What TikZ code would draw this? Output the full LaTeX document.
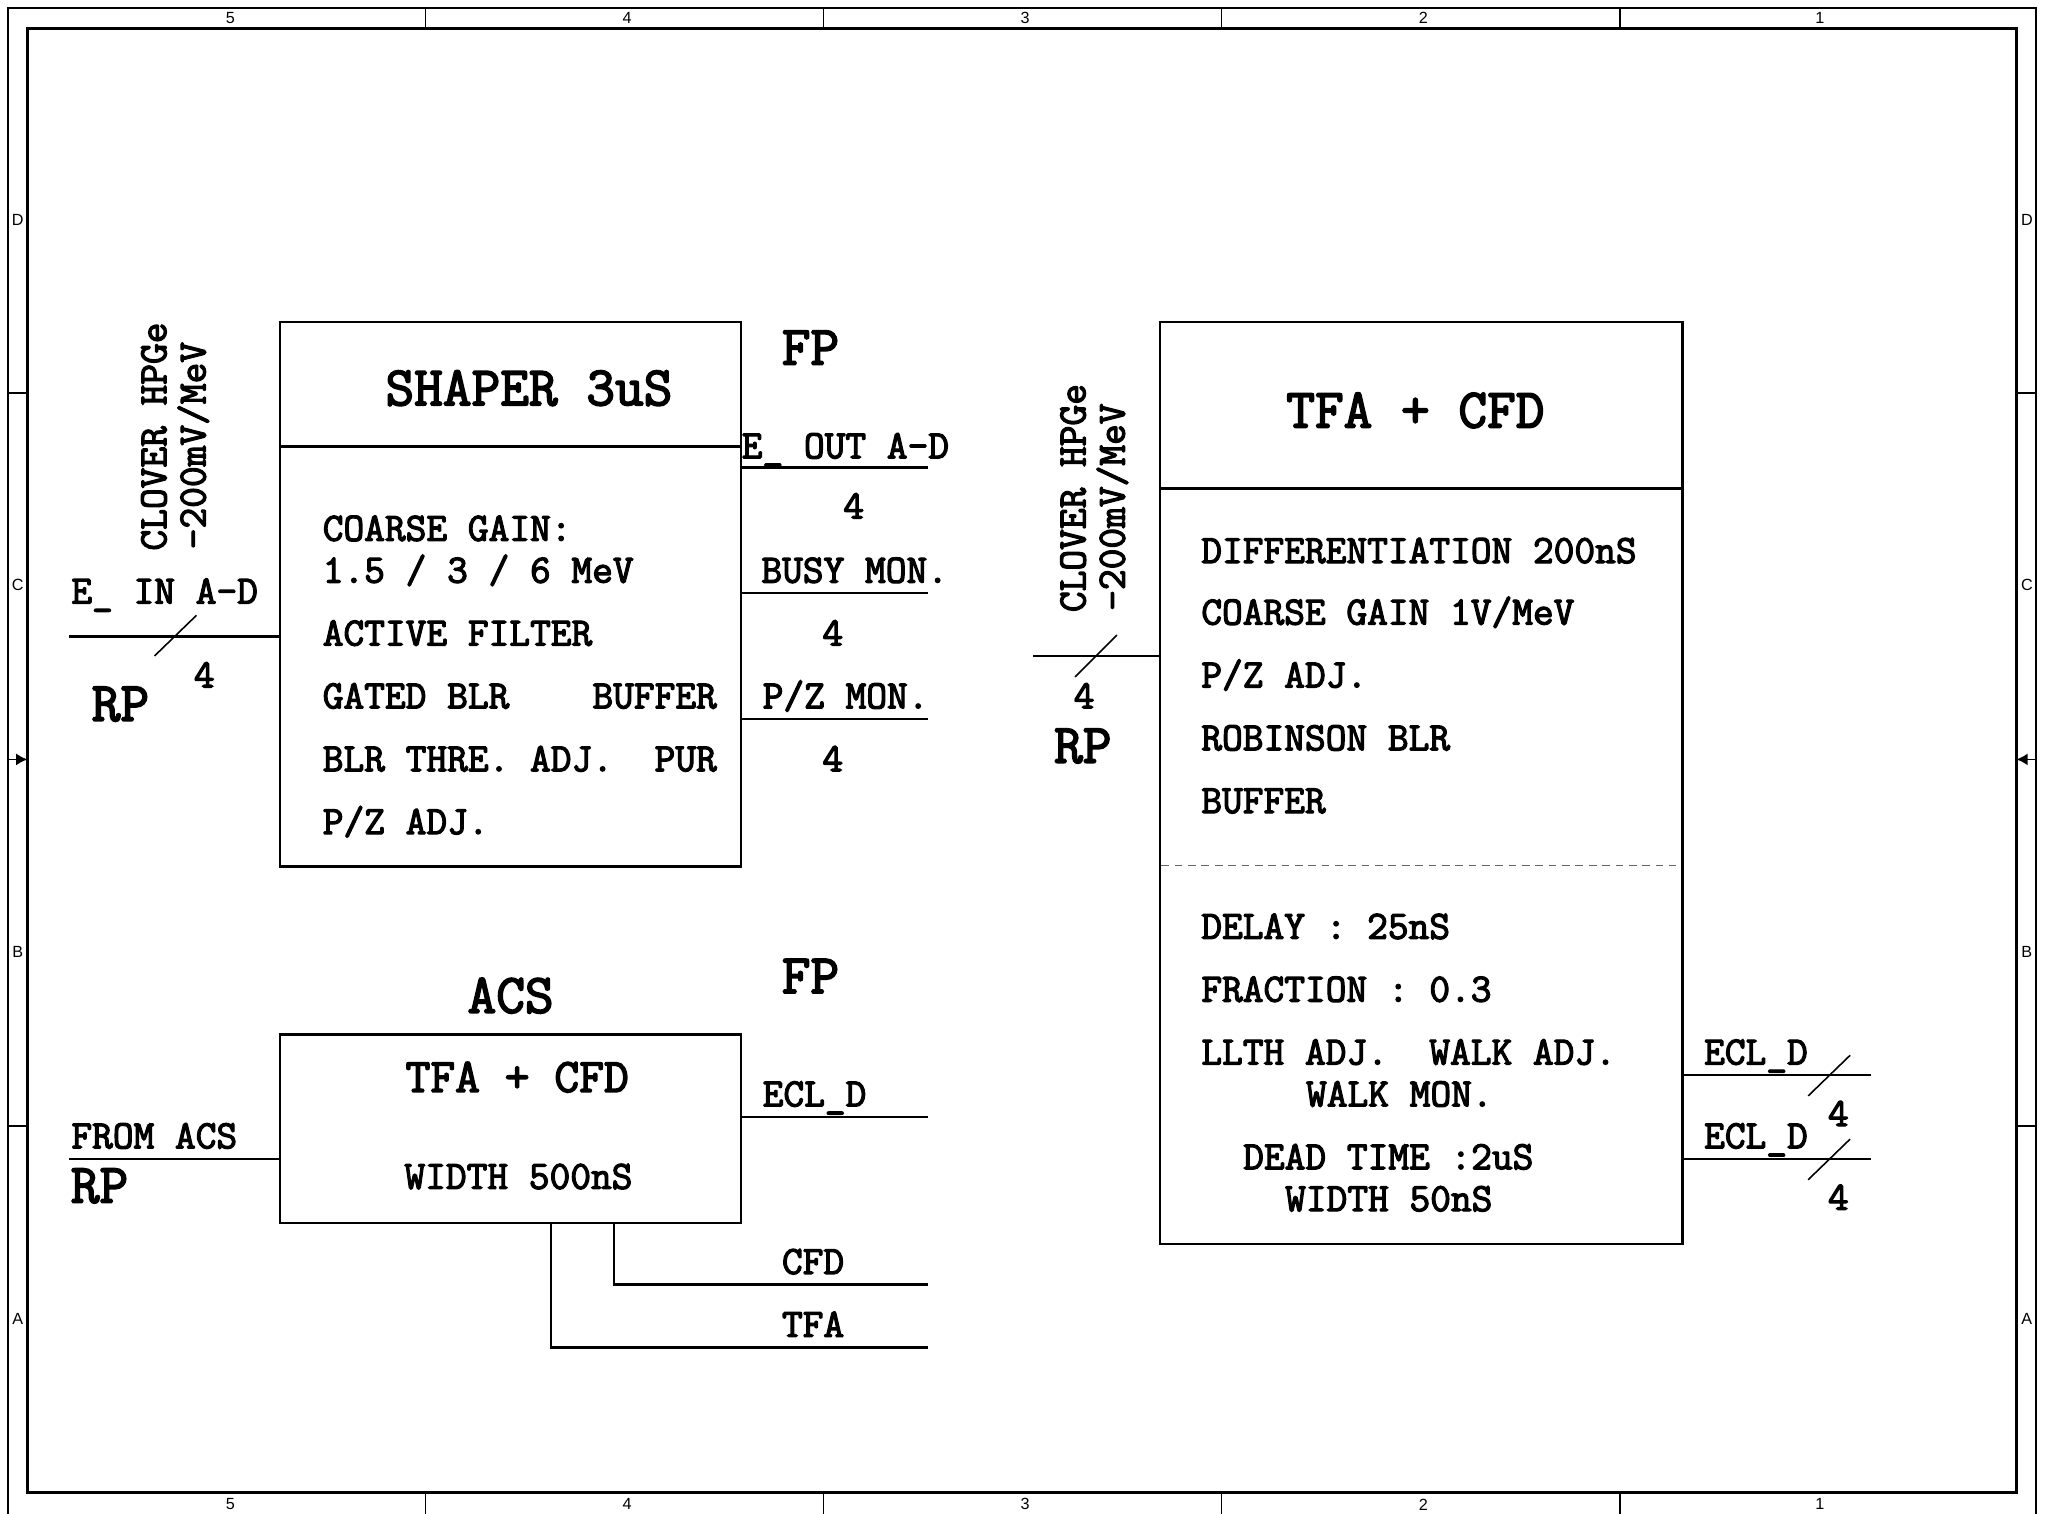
\documentclass[tikz,border=0pt]{standalone}
\usepackage{fontspec}
\usetikzlibrary{arrows.meta}
\newfontfamily\sansf{Liberation Sans}
\newfontfamily\monof[FakeBold=3]{Latin Modern Mono}
\newcommand\bodyfont{\monof\fontsize{11.45}{13}\selectfont}
\newcommand\bigfont{\monof\fontsize{15.85}{18}\selectfont}
\newcommand\midfont{\monof\fontsize{13.7}{16}\selectfont}
\newcommand\zonefont{\sansf\fontsize{4.6}{5}\selectfont}
\def\u{0.0130931cm}
\tikzset{
  txt/.style={inner sep=0pt, font=\bodyfont, anchor=base west},
  ctxt/.style={inner sep=0pt, font=\bodyfont, anchor=base},
  bigtxt/.style={inner sep=0pt, font=\bigfont, anchor=base},
  midtxt/.style={inner sep=0pt, font=\midfont, anchor=base},
  rot/.style={inner sep=0pt, font=\bodyfont, anchor=base west, rotate=90},
  blk/.style={draw, line width=0.7pt, inner sep=0pt, anchor=north west},
  wire/.style={line width=0.7pt},
  slash/.style={line width=0.45pt},
  frm/.style={line width=0.75pt},
  tick/.style={line width=0.5pt},
  zl/.style={inner sep=0pt, font=\zonefont},
  centermark/.style={line width=0.5pt, -{Latex[length=3.2pt,width=3.4pt]}},
}
\begin{document}
\begin{tikzpicture}[x=\u, y=-\u]
\useasboundingbox (0,0) rectangle (1568,1155.6);
% ---------- frame ----------
\draw[frm] (6,1156) -- (6,6) -- (1555,6) -- (1555,1156);
\draw[frm] (21,22) rectangle (1540,1140);
\foreach \x in {325,629,933,1237} {
  \draw[tick] (\x,6) -- (\x,22);
  \draw[tick] (\x,1140) -- (\x,1156);
}
\foreach \x/\l in {176/5,479/4,783/3,1087/2,1390/1} {
  \node[zl] (top\l) at (\x,14) {\l};
  \node[zl] (bot\l) at (\x,1149) {\l};
}
\foreach \y in {300,860} {
  \draw[tick] (6,\y) -- (21,\y);
  \draw[tick] (1540,\y) -- (1555,\y);
}
\coordinate (ml0) at (6,580);  \coordinate (ml1) at (21,580);
\coordinate (mr0) at (1555,580); \coordinate (mr1) at (1540,580);
\draw[centermark] (ml0) -- (ml1);
\draw[centermark] (mr0) -- (mr1);
\foreach \y/\l in {168/D,447/C,727/B,1007/A} {
  \node[zl] (lz\l) at (13.5,\y) {\l};
  \node[zl] (rz\l) at (1548,\y) {\l};
}
% ---------- SHAPER ----------
\node[blk, minimum width=352*\u, minimum height=416*\u] (shaper) at (213,245) {};
\draw[wire] (213,341) -- (565,341);
\node[bigtxt] (shtitle) at (404,309.5) {SHAPER 3uS};
\node[txt] (s1) at (246,413) {COARSE GAIN:};
\node[txt] (s2) at (246,445) {1.5 / 3 / 6 MeV};
\node[txt] (s3) at (246,493) {ACTIVE FILTER};
\node[txt] (s4) at (246,541) {GATED BLR};
\node[inner sep=0pt, font=\bodyfont, anchor=base east] (s4b) at (548,541) {BUFFER};
\node[txt] (s5) at (246,589) {BLR THRE. ADJ.};
\node[inner sep=0pt, font=\bodyfont, anchor=base east] (s5b) at (548,589) {PUR};
\node[txt] (s6) at (246,637) {P/Z ADJ.};
\node[bigtxt] (fp1) at (619,278.5) {FP};
% outputs
\coordinate (eout) at (709,357);
\coordinate (busy) at (709,453);
\coordinate (pzmon) at (709,549);
\draw[wire] (eout -| shaper.east) -- (eout);
\draw[wire] (busy -| shaper.east) -- (busy);
\draw[wire] (pzmon -| shaper.east) -- (pzmon);
\node[txt] (leout) at (566,350) {E\_ OUT A-D};
\node[ctxt] (n1) at (652,396) {4};
\node[txt] (lbusy) at (581,445) {BUSY MON.};
\node[ctxt] (n2) at (636,493) {4};
\node[txt] (lpz) at (582,541) {P/Z MON.};
\node[ctxt] (n3) at (636,589) {4};
% input
\coordinate (ein) at (53,486);
\draw[wire] (ein) -- (ein -| shaper.west);
\draw[slash] (118,501) -- (150,470);
\node[txt] (lein) at (54,461) {E\_ IN A-D};
\node[ctxt] (n4) at (156,525) {4};
\node[bigtxt] (rp1) at (92,550.5) {RP};
\node[rot] (cl1) at (127,421) {CLOVER HPGe};
\node[rot] (cl2) at (157,420) {-200mV/MeV};
% ---------- TFA + CFD ----------
\node[blk, minimum width=399*\u, minimum height=704*\u] (tfa) at (885,245) {};
\draw[wire] (885,373) -- (1284,373);
\draw[line width=0.4pt, gray!80!black, dash pattern=on 2.2pt off 1.6pt] (887,661) -- (1280,661);
\node[bigtxt] (tftitle) at (1081,326.5) {TFA + CFD};
\node[txt] (t1) at (917,430) {DIFFERENTIATION 200nS};
\node[txt] (t2) at (917,477) {COARSE GAIN 1V/MeV};
\node[txt] (t3) at (917,525) {P/Z ADJ.};
\node[txt] (t4) at (917,573) {ROBINSON BLR};
\node[txt] (t5) at (917,621) {BUFFER};
\node[txt] (t6) at (917,717) {DELAY : 25nS};
\node[txt] (t7) at (917,765) {FRACTION : 0.3};
\node[txt] (t8) at (917,813) {LLTH ADJ.\ \ WALK ADJ.};
\node[txt] (t9) at (997,845) {WALK MON.};
\node[txt] (t10) at (949,893) {DEAD TIME :2uS};
\node[txt] (t11) at (981,925) {WIDTH 50nS};
% input
\coordinate (tin) at (789,501);
\draw[wire] (tin) -- (tin -| tfa.west);
\draw[slash] (821,517) -- (853,485);
\node[ctxt] (n5) at (828,541) {4};
\node[bigtxt] (rp2) at (827,582.5) {RP};
\node[rot] (cl3) at (829,468) {CLOVER HPGe};
\node[rot] (cl4) at (859,467) {-200mV/MeV};
% outputs
\coordinate (ecl1) at (1429,821);
\coordinate (ecl2) at (1429,885);
\draw[wire] (ecl1 -| tfa.east) -- (ecl1);
\draw[wire] (ecl2 -| tfa.east) -- (ecl2);
\draw[slash] (1381,837) -- (1413,806);
\draw[slash] (1381,901) -- (1413,870);
\node[txt] (lecl1) at (1301,813) {ECL\_D};
\node[txt] (lecl2) at (1301,877) {ECL\_D};
\node[ctxt] (n6) at (1404,860) {4};
\node[ctxt] (n7) at (1404,924) {4};
% ---------- ACS ----------
\node[bigtxt] (acs) at (390,773.5) {ACS};
\node[bigtxt] (fp2) at (619,758.5) {FP};
\node[blk, minimum width=352*\u, minimum height=144*\u] (acsbox) at (213,789) {};
\node[midtxt] (a1) at (395,834) {TFA + CFD};
\node[ctxt] (a2) at (396,908) {WIDTH 500nS};
\coordinate (aecl) at (709,853);
\draw[wire] (aecl -| acsbox.east) -- (aecl);
\node[txt] (laecl) at (582,845) {ECL\_D};
\coordinate (from) at (53,885);
\draw[wire] (from) -- (from -| acsbox.west);
\node[txt] (lfrom) at (54,877) {FROM ACS};
\node[bigtxt] (rp3) at (76,918.5) {RP};
\coordinate (cfdend) at (709,981);
\coordinate (tfaend) at (709,1029);
\coordinate (cfdtop) at (469,933);
\coordinate (tfatop) at (421,933);
\draw[wire] (cfdtop) -- (cfdtop |- cfdend) -- (cfdend);
\draw[wire] (tfatop) -- (tfatop |- tfaend) -- (tfaend);
\node[ctxt] (lcfd) at (621,973) {CFD};
\node[ctxt] (ltfa) at (621,1021) {TFA};
\end{tikzpicture}
\end{document}
